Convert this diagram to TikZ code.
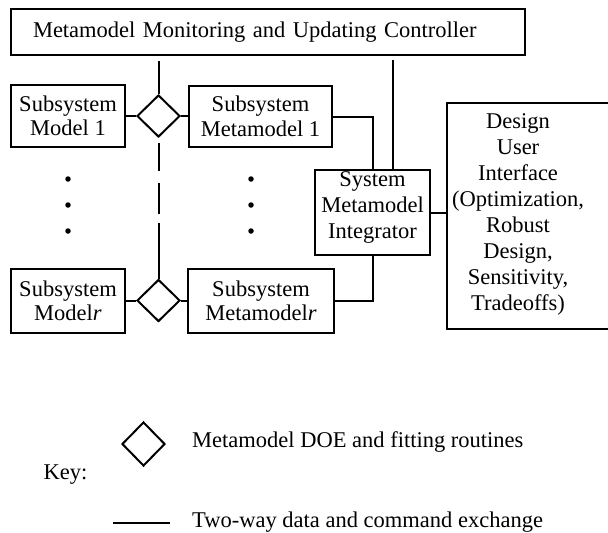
\documentclass[tikz,border=0pt]{standalone}
\usepackage{fontspec}
\setmainfont{Liberation Serif}
\usetikzlibrary{shapes.geometric,calc}
\begin{document}
\begin{tikzpicture}[x=1pt,y=-1pt,
  every node/.style={font=\fontsize{22.5}{24.5}\selectfont},
  box/.style={draw, line width=2pt, inner sep=0pt, align=center},
  dmd/.style={draw, diamond, line width=2pt, inner sep=0pt, minimum width=43pt, minimum height=42pt},
  conn/.style={line width=2pt},
  dot/.style={circle, fill, inner sep=0pt, minimum size=5.5pt},
  txt/.style={inner sep=0pt, align=center}]
\clip (0,0) rectangle (608,533);
% top controller
\node[box, minimum width=514pt, minimum height=46pt, text width=470pt, align=left] (top) at (268,32) {Metamodel Monitoring and Updating Controller};
% subsystem row 1
\node[box, minimum width=114pt, minimum height=62pt] (m1) at (68,116) {Subsystem\\Model 1};
\node[dmd] (d1) at (158.5,116) {};
\node[box, minimum width=143pt, minimum height=61pt] (mm1) at (260.5,116.5) {Subsystem\\Metamodel 1};
% subsystem row r
\node[box, minimum width=114pt, minimum height=64pt] (mr) at (68,301) {Subsystem\\Model\textit{r}};
\node[dmd] (dr) at (158.5,300.5) {};
\node[box, minimum width=146pt, minimum height=64pt] (mmr) at (261,301) {Subsystem\\Metamodel\textit{r}};
% dots
\node[dot] (a1) at (68,179) {};
\node[dot] (a2) at (68,205) {};
\node[dot] (a3) at (68,231) {};
\node[dot] (b1) at (251,179) {};
\node[dot] (b2) at (251,205) {};
\node[dot] (b3) at (251,231) {};
% integrator
\node[box, minimum width=115pt, minimum height=85pt] (int) at (372.5,212.5) {};
\node[txt, font=\fontsize{22.5}{26}\selectfont] (intt) at (372.5,207) {System\\Metamodel\\Integrator};
% design user interface
\node[box, minimum width=173pt, minimum height=226pt] (des) at (533.5,216) {};
\node[txt, font=\fontsize{22.5}{26}\selectfont] (dest) at (518,214) {Design\\User\\Interface\\(Optimization,\\Robust\\Design,\\Sensitivity,\\Tradeoffs)};
% connectors
\coordinate (t1) at (top.south -| d1.north);
\draw[conn, shorten <=5pt] (t1) -- (d1.north);
\coordinate (ir) at ([xshift=20.5pt]int.north);
\coordinate (tr) at (top.south -| ir);
\draw[conn, shorten <=4pt] (tr) -- (ir);
\draw[conn] (m1.east) -- (d1.west);
\draw[conn] (d1.east) -- (d1.east -| mm1.west);
\draw[conn] (mr.east) -- (mr.east -| dr.west);
\draw[conn] (dr.east) -- (dr.east -| mmr.west);
\draw[conn] (mm1.east) -| (int.north);
\draw[conn] (mmr.east) -| (int.south);
\draw[conn] (int.east) -- (int.east -| des.west);
\draw[conn, dash pattern=on 28pt off 12pt on 31pt off 9pt on 60pt off 10pt, shorten <=5pt] (d1.south) -- (dr.north);
% key
\node[dmd, minimum height=44pt] (kd) at (143.5,444) {};
\node[txt] (key) at (65.5,475) {Key:};
\node[txt, anchor=west] (kt1) at (192,442) {Metamodel DOE and fitting routines};
\coordinate (k1) at (113,523);
\coordinate (k2) at (170,523);
\draw[conn] (k1) -- (k2);
\node[txt, anchor=west] (kt2) at (192,522) {Two-way data and command exchange};
\end{tikzpicture}
\end{document}
